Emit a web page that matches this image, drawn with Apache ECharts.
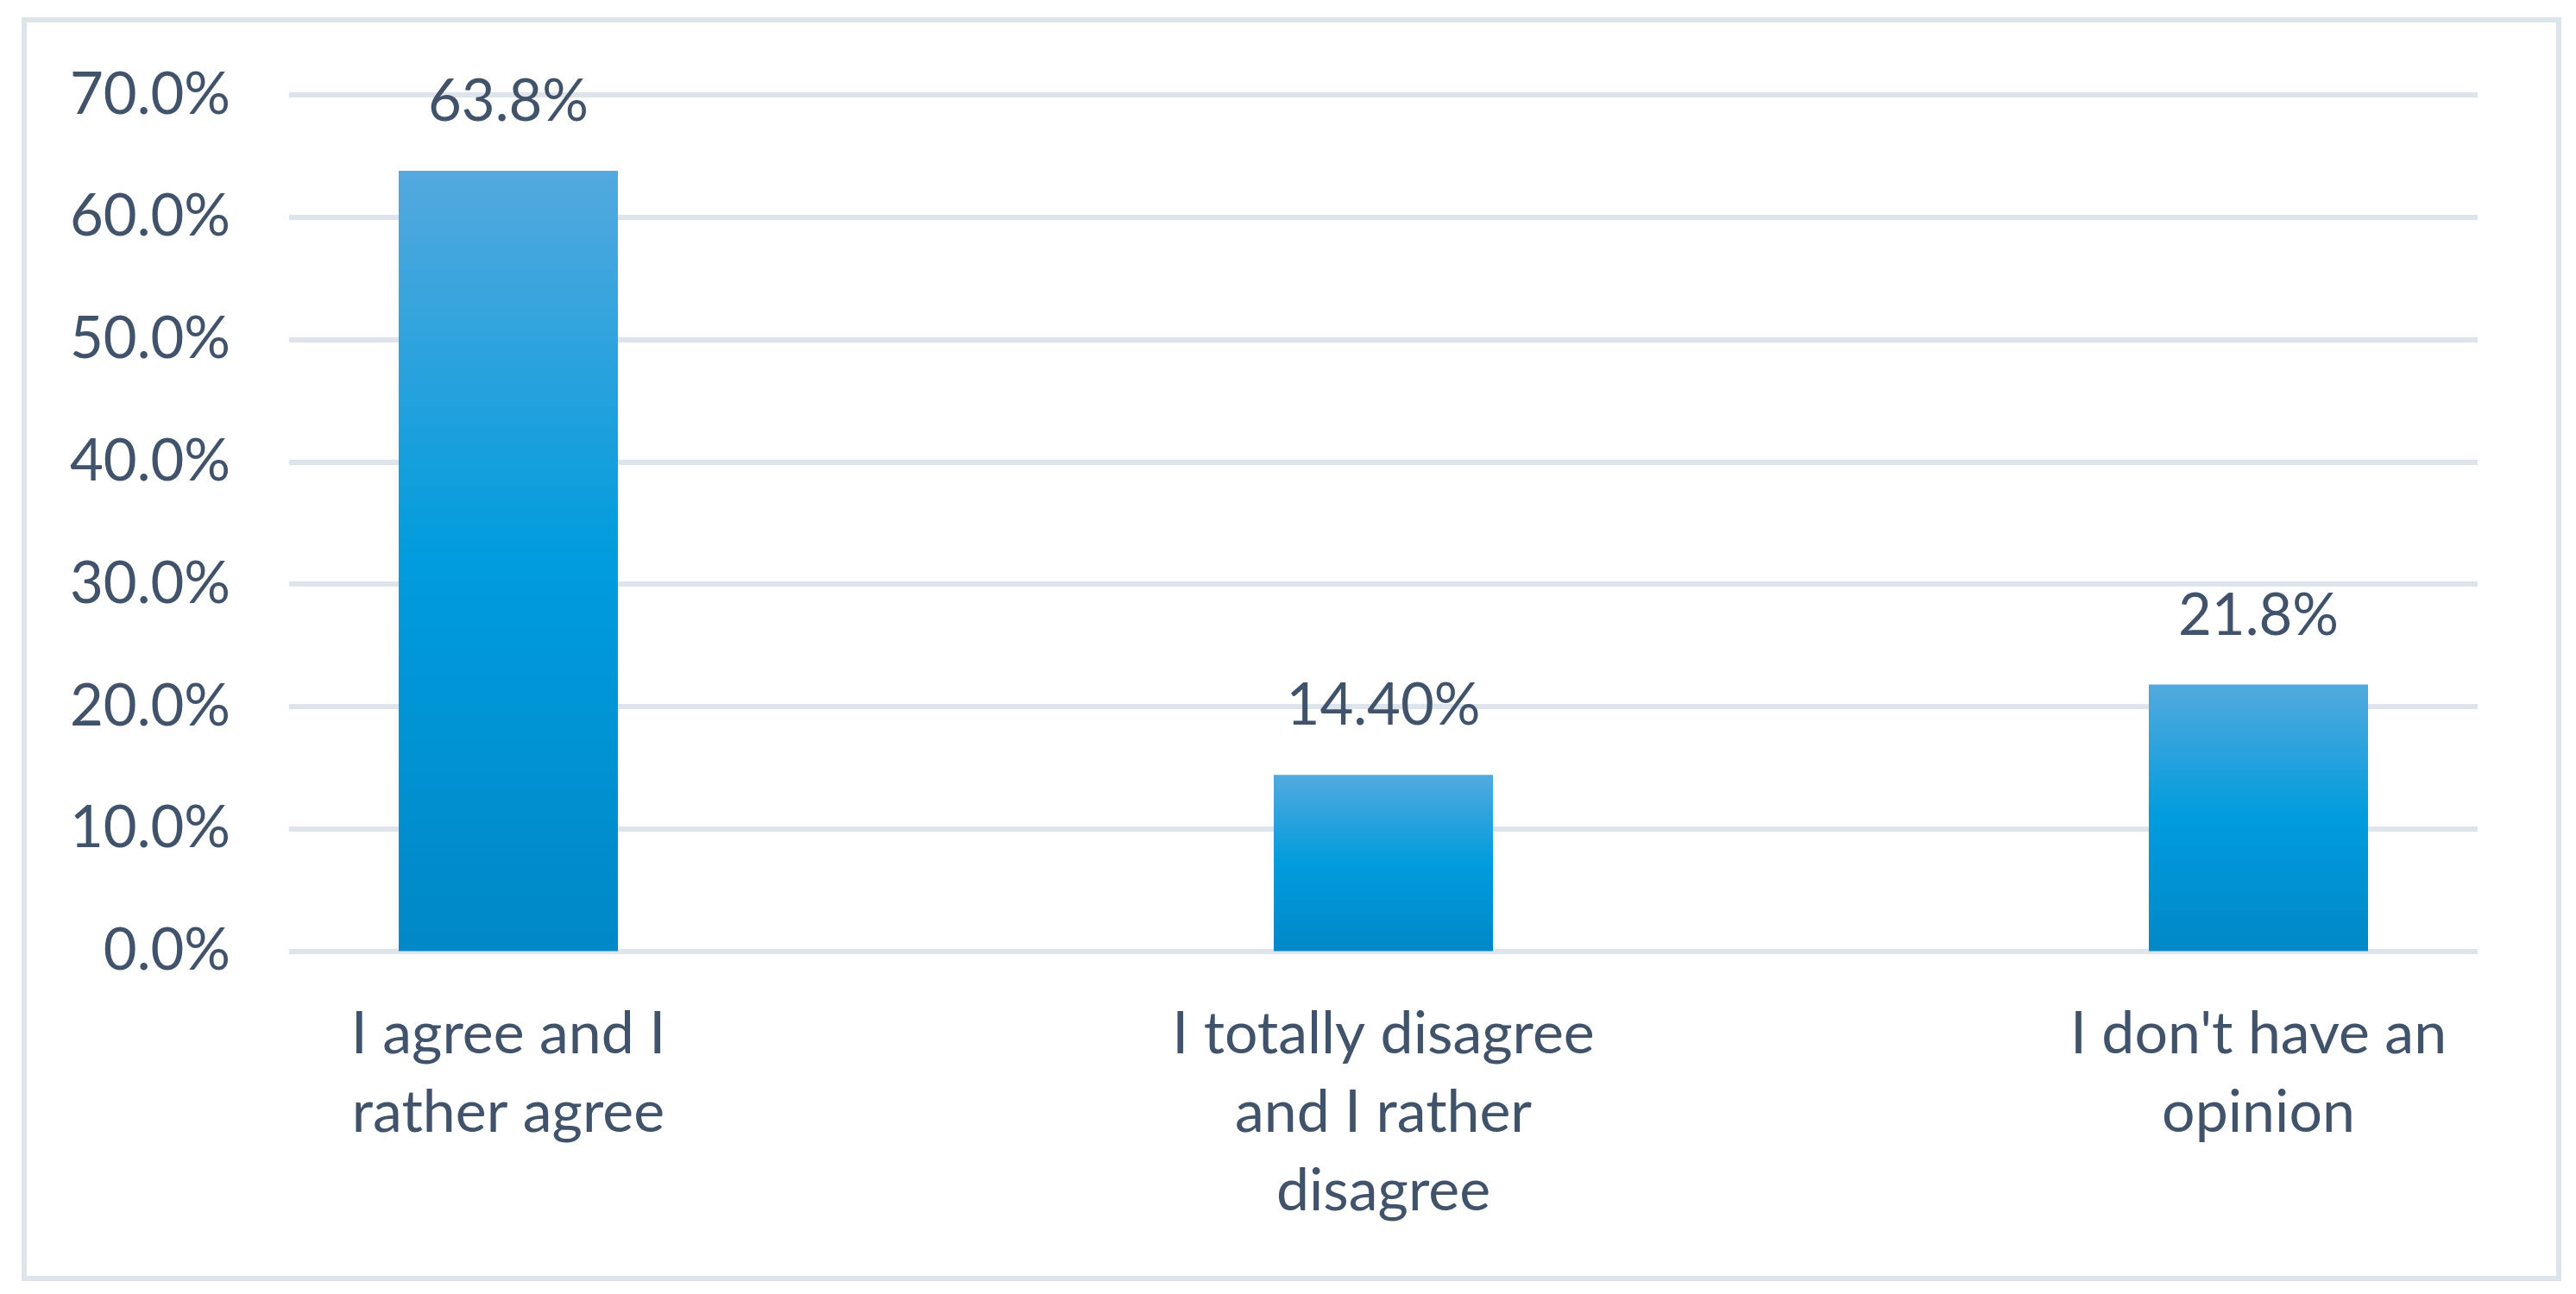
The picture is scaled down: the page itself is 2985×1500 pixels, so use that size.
<!DOCTYPE html>
<html>
<head>
<meta charset="utf-8">
<script src="https://cdn.jsdelivr.net/npm/echarts@6/dist/echarts.min.js"></script>
<style>
html,body{margin:0;padding:0;background:#fff;}
#chart{width:2985px;height:1500px;}
</style>
</head>
<body>
<div id="chart"></div>
<script>
const categories = ["I agree and I\nrather agree", "I totally disagree\nand I rather\ndisagree", "I don't have an\nopinion"];
const values = [63.8, 14.4, 21.8];
const valueLabels = ["63.8%", "14.40%", "21.8%"];
const yMin = 0, yMax = 70, yStep = 10;

const textColor = '#40536a';
const gridColor = '#dde4ec';
const font = 'Lato';

const chart = echarts.init(document.getElementById('chart'));
chart.setOption({
  backgroundColor: '#ffffff',
  animation: false,
  graphic: [{
    type: 'rect', left: 25, top: 20,
    shape: { width: 2937, height: 1459 },
    style: { fill: 'none', stroke: gridColor, lineWidth: 6 },
    z: 0
  }],
  grid: [
    { left: 335, width: 2536, top: 110, height: 992.5, outerBoundsMode: 'none', containLabel: false },
    { left: 82, width: 3042, top: 110, height: 992.5, outerBoundsMode: 'none', containLabel: false }
  ],
  xAxis: [
    { type: 'category', gridIndex: 0, data: categories, show: false },
    {
      type: 'category', gridIndex: 1, data: categories,
      axisLine: { show: false }, axisTick: { show: false },
      axisLabel: {
        color: textColor, fontFamily: font, fontSize: 68, lineHeight: 91,
        margin: 51, interval: 0, align: 'center'
      }
    }
  ],
  yAxis: [
    {
      type: 'value', gridIndex: 0, min: yMin, max: yMax, interval: yStep,
      axisLine: { show: false }, axisTick: { show: false },
      splitLine: { lineStyle: { color: gridColor, width: 6 } },
      axisLabel: {
        color: textColor, fontFamily: font, fontSize: 67, margin: 68,
        formatter: v => v.toFixed(1) + '%'
      }
    },
    {
      type: 'value', gridIndex: 1, min: yMin, max: yMax, interval: yStep,
      show: false, splitLine: { show: false }
    }
  ],
  series: [{
    type: 'bar', xAxisIndex: 1, yAxisIndex: 1,
    data: values, barWidth: 254,
    itemStyle: {
      color: new echarts.graphic.LinearGradient(0, 0, 0, 1, [
        { offset: 0, color: '#53a9de' },
        { offset: 0.5, color: '#009cdd' },
        { offset: 1, color: '#0088c8' }
      ])
    },
    label: {
      show: true, position: 'top', distance: 46,
      color: textColor, fontFamily: font, fontSize: 67,
      formatter: p => valueLabels[p.dataIndex]
    },
    z: 3
  }]
});
</script>
</body>
</html>
